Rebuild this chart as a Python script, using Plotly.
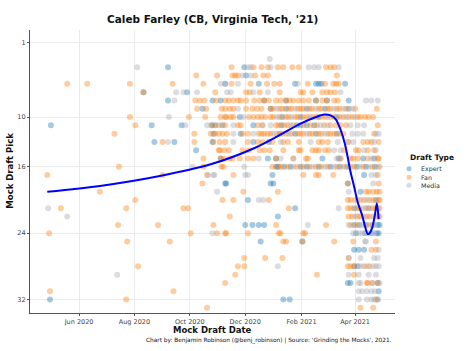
import datetime as dt
import plotly.graph_objects as go

BASE_DATE = dt.date(2020, 4, 1)  # day offsets below count from this date

# (day offset, mock draft pick)
expert_points = [
    (159, 4), (243, 4), (245, 5),
    (222, 6), (259, 6), (299, 6), (322, 6), (325, 6), (328, 6), (354, 6),
    (132, 7), (180, 7),
    (159, 8), (208, 8), (217, 8), (265, 8), (289, 8), (322, 8), (334, 8), (358, 8),
    (197, 9), (272, 9), (289, 9), (312, 9), (332, 9), (358, 9),
    (238, 10), (285, 10), (305, 10), (325, 10), (345, 10),
    (30, 11), (141, 11), (174, 11), (207, 11), (211, 11), (219, 11), (253, 11), (284, 11),
    (301, 11), (305, 11), (312, 11), (320, 11),
    (209, 12), (239, 12), (282, 12), (299, 12), (322, 12), (345, 12),
    (144, 13), (166, 13), (208, 13), (253, 13), (270, 13),
    (190, 14),
    (217, 15), (269, 15), (278, 15), (329, 15), (347, 15), (374, 15), (386, 15),
    (278, 16), (280, 16), (287, 16), (294, 16), (305, 16), (312, 16), (325, 16), (338, 16),
    (348, 16), (357, 16), (367, 16), (377, 16), (387, 16),
    (274, 17), (375, 17),
    (222, 18), (223, 18), (272, 18), (275, 18), (357, 18),
    (371, 19),
    (247, 20), (388, 20),
    (299, 21), (364, 21), (380, 21),
    (280, 22),
    (244, 23), (252, 23), (259, 23), (265, 23), (364, 23), (370, 23), (377, 23), (384, 23),
    (390, 23), (392, 23),
    (366, 24), (376, 24), (383, 24), (389, 24), (391, 24),
    (261, 25), (307, 25),
    (364, 26), (369, 26), (375, 26),
    (364, 28), (368, 28),
    (357, 30), (360, 30), (390, 30),
    (391, 31),
    (29, 32), (286, 32), (293, 32), (390, 32),
]

fan_points = [
    (229, 4), (253, 4), (262, 4), (269, 4), (280, 4), (286, 4), (296, 4), (303, 4), (333, 4),
    (338, 4), (342, 4),
    (190, 5), (213, 5), (230, 5), (233, 5), (236, 5), (255, 5), (264, 5), (269, 5), (345, 5),
    (48, 6), (70, 6), (117, 6), (164, 6), (198, 6), (229, 6), (250, 6), (268, 6), (276, 6),
    (282, 6), (313, 6), (332, 6), (341, 6), (344, 6), (347, 6),
    (132, 7), (211, 7), (245, 7), (249, 7), (260, 7), (282, 7), (305, 7), (308, 7), (318, 7),
    (329, 7), (334, 7), (338, 7), (343, 7),
    (189, 8), (194, 8), (199, 8), (212, 8), (222, 8), (226, 8), (231, 8), (236, 8), (239, 8),
    (245, 8), (254, 8), (260, 8), (265, 8), (270, 8), (278, 8), (283, 8), (289, 8), (293, 8),
    (297, 8), (303, 8), (308, 8), (314, 8), (322, 8), (329, 8), (334, 8), (342, 8), (346, 8),
    (191, 9), (201, 9), (218, 9), (222, 9), (227, 9), (231, 9), (245, 9), (252, 9), (257, 9),
    (262, 9), (272, 9), (275, 9), (282, 9), (285, 9), (292, 9), (295, 9), (302, 9), (305, 9),
    (308, 9), (315, 9), (318, 9), (325, 9), (328, 9), (335, 9), (338, 9), (345, 9), (348, 9),
    (355, 9), (365, 9), (389, 9),
    (117, 10), (182, 10), (200, 10), (217, 10), (222, 10), (223, 10), (228, 10), (231, 10),
    (248, 10), (253, 10), (258, 10), (262, 10), (266, 10), (272, 10), (275, 10), (282, 10),
    (289, 10), (292, 10), (299, 10), (302, 10), (308, 10), (312, 10), (318, 10), (322, 10),
    (328, 10), (332, 10), (338, 10), (342, 10), (348, 10), (352, 10), (358, 10), (362, 10),
    (368, 10), (371, 10), (376, 10), (380, 10), (385, 10),
    (123, 11), (208, 11), (215, 11), (222, 11), (236, 11), (239, 11), (258, 11), (263, 11),
    (278, 11), (281, 11), (287, 11), (291, 11), (297, 11), (308, 11), (316, 11), (323, 11),
    (331, 11), (338, 11), (344, 11), (349, 11), (355, 11), (390, 11),
    (100, 12), (188, 12), (206, 12), (211, 12), (215, 12), (219, 12), (224, 12), (241, 12),
    (247, 12), (259, 12), (262, 12), (265, 12), (269, 12), (272, 12), (279, 12), (285, 12),
    (289, 12), (295, 12), (302, 12), (305, 12), (308, 12), (315, 12), (318, 12), (325, 12),
    (328, 12), (335, 12), (338, 12), (342, 12), (348, 12), (352, 12), (386, 12),
    (153, 13), (188, 13), (209, 13), (216, 13), (222, 13), (247, 13), (258, 13), (263, 13),
    (274, 13), (286, 13), (291, 13), (303, 13), (325, 13), (329, 13), (335, 13), (358, 13),
    (374, 13), (379, 13), (383, 13), (391, 13),
    (215, 14), (216, 14), (221, 14), (226, 14), (241, 14), (248, 14), (260, 14), (265, 14),
    (271, 14), (286, 14), (303, 14), (305, 14), (318, 14), (322, 14), (325, 14), (332, 14),
    (336, 14), (353, 14), (366, 14), (369, 14), (379, 14), (386, 14),
    (198, 15), (217, 15), (221, 15), (227, 15), (230, 15), (238, 15), (247, 15), (253, 15),
    (278, 15), (297, 15), (311, 15), (313, 15), (349, 15), (360, 15), (363, 15), (368, 15),
    (379, 15), (390, 15), (391, 15),
    (105, 16), (198, 16), (218, 16), (220, 16), (274, 16), (281, 16), (284, 16), (291, 16),
    (301, 16), (308, 16), (315, 16), (322, 16), (328, 16), (335, 16), (345, 16), (352, 16),
    (360, 16), (364, 16), (374, 16), (384, 16), (392, 16),
    (26, 17), (153, 17), (202, 17), (231, 17), (308, 17), (322, 17), (325, 17), (341, 17),
    (390, 17),
    (197, 18), (357, 18), (391, 18),
    (84, 19), (242, 19), (280, 19), (377, 19), (380, 19), (385, 19), (389, 19), (392, 19),
    (123, 20), (219, 20), (231, 20), (270, 20), (357, 20), (360, 20), (365, 20), (371, 20),
    (375, 20), (381, 20), (385, 20), (391, 20), (392, 20),
    (41, 21), (113, 21), (176, 21), (181, 21), (292, 21), (357, 21), (360, 21), (367, 21),
    (370, 21), (377, 21), (384, 21), (387, 21), (392, 21),
    (227, 22), (358, 22), (362, 22), (368, 22), (371, 22), (378, 22), (381, 22), (388, 22),
    (392, 22),
    (104, 23), (148, 23), (209, 23), (278, 23), (333, 23), (360, 23), (367, 23), (380, 23),
    (28, 24), (184, 24), (213, 24), (222, 24), (223, 24), (247, 24), (281, 24), (283, 24),
    (308, 24), (310, 24),
    (114, 25), (161, 25), (286, 25), (289, 25), (307, 25), (342, 25), (363, 25), (388, 25),
    (383, 26), (388, 26),
    (243, 27), (266, 27), (285, 27), (358, 27),
    (126, 28), (236, 28), (243, 28), (357, 28), (360, 28), (364, 28), (375, 28), (381, 28),
    (233, 29), (323, 29), (364, 29),
    (222, 30), (378, 30), (379, 30), (384, 30), (390, 30),
    (29, 31), (165, 31),
    (113, 32), (388, 32),
    (202, 33), (371, 33), (385, 33),
]

media_points = [
    (271, 3),
    (125, 4), (247, 4), (250, 4), (272, 4), (314, 4), (320, 4), (325, 4), (347, 4),
    (241, 5), (250, 5),
    (217, 6), (222, 6), (236, 6), (302, 6),
    (168, 7), (176, 7), (191, 7), (224, 7), (228, 7), (253, 7), (269, 7), (349, 7),
    (166, 8), (377, 8), (383, 8), (390, 8),
    (236, 9), (279, 9), (299, 9), (322, 9), (342, 9), (352, 9), (362, 9),
    (160, 10), (242, 10), (279, 10), (295, 10), (315, 10), (335, 10), (355, 10), (365, 10),
    (178, 11), (202, 11), (231, 11), (263, 11), (272, 11), (294, 11), (327, 11), (335, 11),
    (360, 11), (368, 11), (375, 11),
    (231, 12), (253, 12), (275, 12), (292, 12), (312, 12), (332, 12), (362, 12), (368, 12),
    (374, 12), (388, 12), (391, 12),
    (159, 13), (231, 13), (283, 13), (316, 13), (346, 13), (357, 13), (363, 13), (386, 13),
    (342, 14), (349, 14), (375, 14), (388, 14),
    (259, 15), (283, 15), (297, 15), (345, 15), (349, 15), (383, 15),
    (186, 16), (243, 16), (297, 16), (318, 16), (332, 16), (342, 16), (355, 16), (370, 16),
    (380, 16), (390, 16),
    (203, 17), (209, 17), (210, 17), (244, 17), (247, 17), (383, 17), (388, 17),
    (385, 18),
    (213, 19), (358, 19),
    (259, 20), (264, 20), (368, 20), (378, 20),
    (27, 21), (347, 21), (374, 21), (390, 21),
    (48, 22), (365, 22), (375, 22), (385, 22), (391, 22),
    (313, 23), (358, 23), (374, 23), (387, 23),
    (208, 24), (363, 24), (369, 24), (373, 24), (379, 24), (386, 24),
    (376, 25), (377, 25),
    (391, 26),
    (358, 27), (371, 27), (386, 27), (390, 27),
    (280, 28), (371, 28), (378, 28), (385, 28), (388, 28), (391, 28),
    (103, 29), (358, 29), (369, 29), (380, 29), (388, 29),
    (369, 30), (371, 30), (384, 30), (392, 30),
    (369, 31), (373, 31), (378, 31), (383, 31), (387, 31),
    (369, 32), (378, 32), (383, 32), (386, 32),
]

# smoothed trend (day offset, pick)
smooth_days = [26, 84, 150, 206, 255, 280, 305, 322, 331, 338, 344, 349,
               354, 357, 360, 364, 368, 373, 376, 379, 381, 384, 387, 389, 391]
smooth_picks = [19.0, 18.3, 17.1, 15.7, 13.7, 12.3, 10.8, 10.0, 9.7,
                9.8, 10.3, 11.5, 13.3, 14.9, 16.6, 18.4, 20.3, 21.9, 23.2, 24.1, 24.0, 23.3,
                21.7, 20.4, 22.3]

series_names = ["Expert", "Fan", "Media"]
series_colors = ["#1f77b4", "#ff7f0e", "#a9a9b3"]
pick_ticks = [1, 10, 16, 24, 32]
date_ticks = ["2020-06-01", "2020-08-01", "2020-10-01", "2020-12-01", "2021-02-01", "2021-04-01"]
date_tick_labels = ["Jun 2020", "Aug 2020", "Oct 2020", "Dec 2020", "Feb 2021", "Apr 2021"]


def to_date(d):
    return BASE_DATE + dt.timedelta(days=d)


FONT = "DejaVu Sans"
fig = go.Figure()

for name, pts, col in zip(series_names, [expert_points, fan_points, media_points], series_colors):
    fig.add_trace(go.Scatter(
        x=[to_date(d) for d, _ in pts], y=[p for _, p in pts],
        mode="markers", name=name, showlegend=False,
        marker=dict(color=col, size=6, opacity=0.4, line=dict(width=0)),
    ))

fig.add_trace(go.Scatter(
    x=[to_date(d) for d in smooth_days], y=smooth_picks, mode="lines",
    line=dict(color="#0000ff", width=2, shape="spline", smoothing=0.8),
    showlegend=False, hoverinfo="skip",
))

fig.update_layout(
    width=468, height=351,
    margin=dict(l=30, r=73, t=30, b=38),
    paper_bgcolor="white", plot_bgcolor="white",
    font=dict(family=FONT, color="#333"),
    xaxis=dict(
        range=[to_date(7), to_date(409)], tickvals=date_ticks, ticktext=date_tick_labels,
        showgrid=True, gridcolor="#ebebeb", gridwidth=1,
        showline=True, linecolor="#555", linewidth=1.3,
        ticks="outside", ticklen=2, tickcolor="#555",
        tickfont=dict(size=6.5, color="#444"), zeroline=False,
    ),
    yaxis=dict(
        range=[33.62, -0.49], tickvals=pick_ticks,
        showgrid=True, gridcolor="#ebebeb", gridwidth=1,
        showline=True, linecolor="#555", linewidth=1.3,
        ticks="outside", ticklen=2, tickcolor="#555",
        tickfont=dict(size=6.5, color="#444"), zeroline=False,
    ),
)

annotations = [
    dict(text="<b>Caleb Farley (CB, Virginia Tech, '21)</b>", x=0.501, y=1.038,
         xref="paper", yref="paper", xanchor="center", yanchor="middle",
         showarrow=False, font=dict(size=10.5, color="#111", family=FONT)),
    dict(text="<b>Mock Draft Date</b>", x=0.501, y=-0.060, xref="paper", yref="paper",
         xanchor="center", yanchor="middle", showarrow=False,
         font=dict(size=8.5, color="#111", family=FONT)),
    dict(text="<b>Mock Draft Pick</b>", x=-0.0548, y=0.503, xref="paper", yref="paper",
         xanchor="center", yanchor="middle", showarrow=False, textangle=-90,
         font=dict(size=8.5, color="#111", family=FONT)),
    dict(text="Chart by: Benjamin Robinson (@benj_robinson) | Source: 'Grinding the Mocks', 2021.",
         x=0.997, y=-0.0956, xref="paper", yref="paper", xanchor="right", yanchor="middle",
         showarrow=False, font=dict(size=5.8, color="#111", family=FONT)),
    dict(text="<b>Draft Type</b>", x=1.0356, y=0.549, xref="paper", yref="paper",
         xanchor="left", yanchor="middle", showarrow=False,
         font=dict(size=7.5, color="#111", family=FONT)),
]
shapes = []
legend_y = [0.510, 0.480, 0.451]
for name, col, ly in zip(series_names, series_colors, legend_y):
    annotations.append(dict(text=name, x=1.0658, y=ly, xref="paper", yref="paper",
                            xanchor="left", yanchor="middle", showarrow=False,
                            font=dict(size=6.3, color="#333", family=FONT)))
    shapes.append(dict(type="circle", xref="paper", yref="paper",
                       xsizemode="pixel", ysizemode="pixel",
                       xanchor=1.0384, yanchor=ly, x0=-2.5, x1=2.5, y0=-2.5, y1=2.5,
                       fillcolor=col, opacity=0.42, line=dict(width=0)))

fig.update_layout(annotations=annotations, shapes=shapes)
fig.write_html("out.html")
